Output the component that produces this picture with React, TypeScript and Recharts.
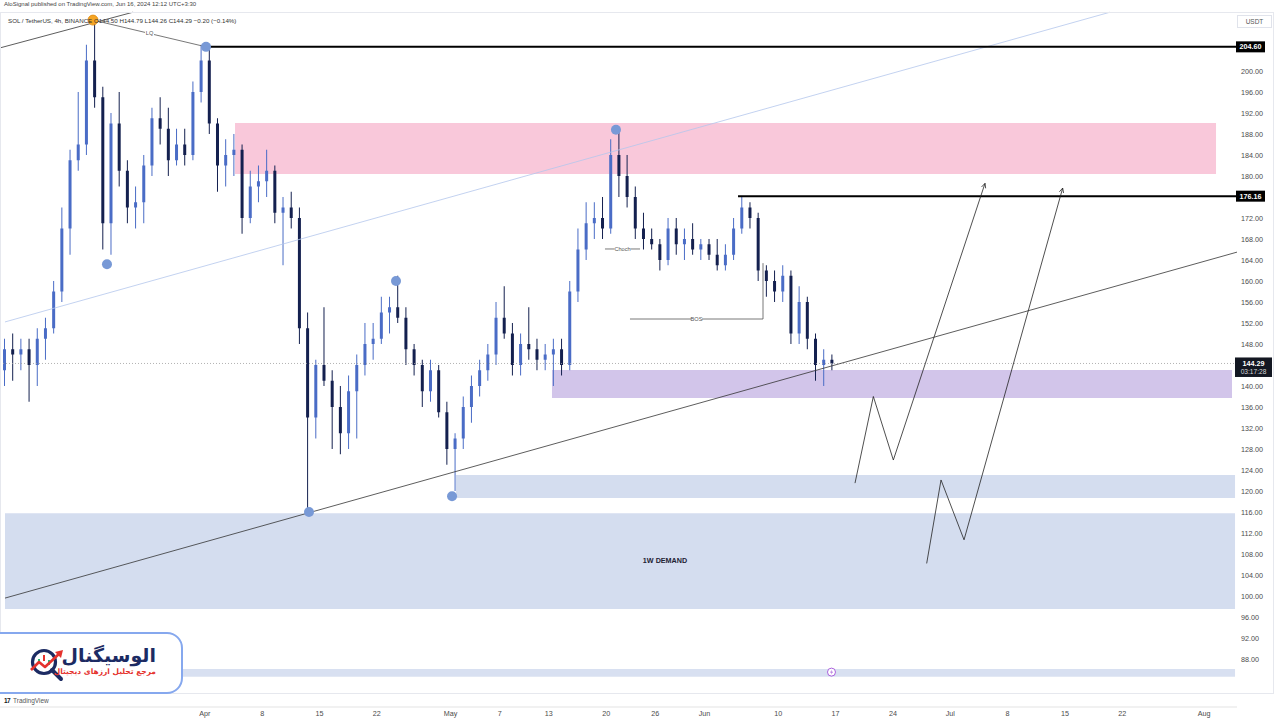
import React from 'react';
import { ComposedChart, Bar, XAxis, YAxis, ReferenceLine, ReferenceArea, ReferenceDot } from 'recharts';

// ---------- data ----------
// day offsets are relative to Apr 1 (day 0); first candle = Mar 7 (day -25)
const START_DAY = -25;
const END_DAY = 126;

// daily candles, Mar 7 -> Jun 16
const opens = [143,147,146,147,144,149,151,158,170,183,186,202,195,171,190,181,174,175,182,191,189,183,186,184,196,
  202,190,182,184,185,172,178,179,181,173,174,172,151,134,144,141,136,131,139,144,148,149,154,155,153,147,144,139,143,135,
  128,130,136,140,143,146,153,150,144,148,147,145,146,147,144,158,166,171,172,170,184,180,176,170,168,167,164,170,167,168,166,
  167,165,163,165,170,174,172,162,160,158,161,150,156,149,144,145];
const highs = [149,150,149,149,151,153,160,174,185,196,205,210,197,192,196,183,178,184,193,195,193,189,189,198,205,
  204,191,187,188,186,181,182,185,182,176,177,174,154,145,155,143,140,142,146,152,152,157,157,161,155,148,145,145,144,137,
  131,138,142,145,148,156,159,152,150,155,149,148,149,149,160,170,175,175,176,187,189,184,178,173,170,168,172,172,170,171,168,
  168,168,167,172,176.2,175,173,163,162,163,162,159,157,150,147,146];
const lows = [140,141,143,137,140,145,150,156,165,181,184,193,166,165,178,171,170,171,180,186,180,182,182,183,194,
  188,177,178,180,169,171,175,176,171,163,170,148,116,130,140,128,127,128,130,142,145,148,150,152,144,142,136,137,134,125,
  120,128,133,138,141,144,149,142,142,145,143,143,140,142,143,156,164,168,168,169,176,174,168,166,166,162,163,165,164,165,164,
  164,162,162,164,169,170,160,157,156,156,148,148,147,141,140,143];
const closes = [147,146,147,144,149,151,158,170,183,186,202,195,171,190,181,174,175,182,191,189,183,186,184,196,202,
  190,182,184,185,172,178,179,181,173,174,172,151,134,144,141,136,131,139,144,148,149,154,155,153,147,144,139,143,135,128,
  130,136,140,143,146,153,150,144,148,147,145,146,147,144,158,166,171,172,170,184,180,176,170,168,167,164,170,167,168,166,167,
  165,163,165,170,174,172,162,160,158,161,150,156,149,144,145,144.29];

const xTickDays = [0, 7, 14, 21, 30, 36, 42, 49, 55, 61, 70, 77, 84, 91, 98, 105, 112, 122];
const xTickLabels = ['Apr', '8', '15', '22', 'May', '7', '13', '20', '26', 'Jun', '10', '17', '24', 'Jul', '8', '15', '22', 'Aug'];
const yTicks = [88, 92, 96, 100, 104, 108, 112, 116, 120, 124, 128, 132, 136, 140, 148, 152, 156, 160, 164, 168, 172, 180, 184, 188, 192, 196, 200];
const yDomain = [84.571, 211.238];

// zones: [fromDay, toDay, top, bottom]
const supplyZone = [3.69, 123.44, 190.1, 180.38];
const purpleZone = [42.38, 125.39, 143.05, 137.71];
const demandSmall = [30.66, 125.76, 123.05, 118.67];
const demandWeekly = [-24.39, 125.76, 115.75, 97.52];
const bottomStrip = [-2.66, 125.76, 86.1, 84.6];

// drawn lines
const mainTrend = [{ d: -24.39, p: 99.6 }, { d: 126, p: 165.5 }];
const blueTrend = [{ d: -24.39, p: 152.2 }, { d: 110.5, p: 211.2 }];
const topLine = [{ d: -25, p: 204.4 }, { d: -8.76, p: 211.2 }];
const lqLine = [{ d: -13.65, p: 209.7 }, { d: 0.15, p: 204.6 }];
const levels = [{ p: 204.6, from: 0.15, label: '204.60' }, { p: 176.16, from: 65.09, label: '176.16' }];
const lastPrice = 144.29;
const chochLine = { p: 166.1, from: 48.85, to: 53.13 };
const bosLine = { p: 152.76, from: 51.9, to: 68.14, top: 163.4 };

const forecastA = [{ d: 79.37, p: 121.5 }, { d: 81.61, p: 138.0 }, { d: 84.05, p: 125.9 }, { d: 95.24, p: 178.6 }];
const forecastB = [{ d: 88.12, p: 106.2 }, { d: 89.87, p: 122.1 }, { d: 92.68, p: 110.7 }, { d: 104.72, p: 177.7 }];

const swingDots = [
  { d: -11.94, p: 163.2 }, { d: 0.15, p: 204.6 }, { d: 12.72, p: 116.0 },
  { d: 23.34, p: 160.0 }, { d: 30.18, p: 119.0 }, { d: 50.19, p: 188.8 },
];
const topDot = { d: -13.65, p: 209.7 };

// ---------- styles ----------
const FONT = '"Liberation Sans", Arial, sans-serif';
const UP = '#4a6cc6';
const DOWN = '#14204f';

const rows = Array.from({ length: END_DAY - START_DAY }, (_, i) => ({
  day: i,
  dn: START_DAY + i + 0.5,
  o: opens[i] ?? null,
  h: highs[i] ?? null,
  l: lows[i] ?? null,
  c: closes[i] ?? null,
}));

const Candle = (props: any) => {
  const { x, y, width, height, payload } = props;
  if (!payload || payload.h == null || !isFinite(y) || !isFinite(height)) return null;
  const { o, h, l, c } = payload;
  const ppu = height / (h - l);
  const yo = y + (h - o) * ppu;
  const yc = y + (h - c) * ppu;
  const col = c >= o ? UP : DOWN;
  const cx = x + width / 2;
  return (
    <g>
      <line x1={cx} x2={cx} y1={y} y2={y + height} stroke={col} strokeWidth={1} />
      <rect x={x} y={Math.min(yo, yc)} width={width} height={Math.max(1, Math.abs(yc - yo))} fill={col} />
    </g>
  );
};

const thinLine = (color: string, w = 0.8) => (p: any) => (
  <line x1={p.x1} y1={p.y1} x2={p.x2} y2={p.y2} stroke={color} strokeWidth={w} />
);

const arrowLine = (withArrow: boolean) => (p: any) => {
  const ang = Math.atan2(p.y2 - p.y1, p.x2 - p.x1);
  const L = 5;
  const a1 = ang + Math.PI - 0.45;
  const a2 = ang + Math.PI + 0.45;
  return (
    <g>
      <line x1={p.x1} y1={p.y1} x2={p.x2} y2={p.y2} stroke="#222" strokeWidth={0.8} />
      {withArrow && (
        <g>
          <line x1={p.x2} y1={p.y2} x2={p.x2 + L * Math.cos(a1)} y2={p.y2 + L * Math.sin(a1)} stroke="#222" strokeWidth={0.8} />
          <line x1={p.x2} y1={p.y2} x2={p.x2 + L * Math.cos(a2)} y2={p.y2 + L * Math.sin(a2)} stroke="#222" strokeWidth={0.8} />
        </g>
      )}
    </g>
  );
};

const levelShape = (label: string) => (p: any) => {
  const xr = Math.max(p.x1, p.x2);
  return (
    <g>
      <line x1={p.x1} y1={p.y1} x2={p.x2} y2={p.y2} stroke="#000" strokeWidth={2} />
      <rect x={xr - 1} y={p.y1 - 5.5} width={29} height={11} fill="#000" />
      <text x={xr + 13.5} y={p.y1 + 2.6} textAnchor="middle" fill="#fff" fontSize={7.2} fontWeight="bold" fontFamily={FONT}>{label}</text>
    </g>
  );
};

const lastPriceShape = (p: any) => {
  const xr = Math.max(p.x1, p.x2);
  return (
    <g>
      <line x1={p.x1} y1={p.y1} x2={p.x2} y2={p.y2} stroke="#a0a0a0" strokeWidth={0.8} strokeDasharray="1 2" />
      <rect x={xr - 2} y={p.y1 - 6} width={37} height={19.5} fill="#131722" />
      <text x={xr + 16.5} y={p.y1 + 2.3} textAnchor="middle" fill="#fff" fontSize={7.2} fontWeight="bold" fontFamily={FONT}>{lastPrice.toFixed(2)}</text>
      <text x={xr + 16.5} y={p.y1 + 10.5} textAnchor="middle" fill="#d8d8d8" fontSize={6.6} fontFamily={FONT}>03:17:28</text>
    </g>
  );
};

const labeledLine = (label: string, w: number) => (p: any) => {
  const mx = (p.x1 + p.x2) / 2;
  const my = (p.y1 + p.y2) / 2;
  return (
    <g>
      <line x1={p.x1} y1={p.y1} x2={p.x2} y2={p.y2} stroke="#555" strokeWidth={0.8} />
      <rect x={mx - w / 2} y={my - 3.5} width={w} height={7} fill="#fff" />
      <text x={mx} y={my + 2} textAnchor="middle" fontSize={5.6} fill="#555" fontFamily={FONT}>{label}</text>
    </g>
  );
};

const segs = (pts: { d: number; p: number }[]) =>
  pts.slice(1).map((pt, i) => [{ x: pts[i].d, y: pts[i].p }, { x: pt.d, y: pt.p }]);

export default function App() {
  return (
    <div style={{ position: 'absolute', left: 0, top: 0, width: 1280, height: 720, background: '#fff', fontFamily: FONT, overflow: 'hidden' }}>
      <ComposedChart width={1280} height={720} data={rows} margin={{ top: 12, right: 0, left: 0, bottom: 21 }}>
        <XAxis xAxisId="cat" dataKey="day" type="category" hide />
        <XAxis
          xAxisId="num"
          dataKey="dn"
          type="number"
          domain={[START_DAY, END_DAY]}
          allowDataOverflow
          ticks={xTickDays}
          interval={0}
          tickFormatter={(v: number) => xTickLabels[xTickDays.indexOf(v)] ?? ''}
          tickLine={false}
          tickSize={0}
          tickMargin={4}
          height={22}
          axisLine={{ stroke: '#e3e3e3' }}
          tick={{ fontSize: 7.2, fill: '#4b4b4b', fontFamily: FONT }}
        />
        <YAxis
          yAxisId="p"
          orientation="right"
          width={43}
          type="number"
          domain={yDomain}
          allowDataOverflow
          ticks={yTicks}
          interval={0}
          tickFormatter={(v: number) => v.toFixed(2)}
          tickLine={false}
          tickSize={0}
          tickMargin={4}
          axisLine={false}
          tick={{ fontSize: 7.2, fill: '#4b4b4b', fontFamily: FONT }}
        />

        {[supplyZone, purpleZone, demandSmall, demandWeekly, bottomStrip].map((z, i) => (
          <ReferenceArea
            key={'z' + i}
            xAxisId="num"
            yAxisId="p"
            x1={z[0]}
            x2={z[1]}
            y1={z[2]}
            y2={z[3]}
            ifOverflow="visible"
            fill={['#f9c8da', '#d2c5ea', '#d4ddef', '#d4ddef', '#d8e0f1'][i]}
            fillOpacity={1}
            stroke="none"
          />
        ))}

        <ReferenceLine xAxisId="num" yAxisId="p" segment={segs(blueTrend)[0]} ifOverflow="visible" shape={thinLine('#b4c6ec', 0.8)} />

        <Bar xAxisId="cat" yAxisId="p" dataKey={(r: any) => (r.h == null ? null : [r.l, r.h])} barSize={3} shape={<Candle />} isAnimationActive={false} />

        <ReferenceLine xAxisId="num" yAxisId="p" y={lastPrice} ifOverflow="visible" shape={lastPriceShape} />
        <ReferenceLine xAxisId="num" yAxisId="p" segment={segs(mainTrend)[0]} ifOverflow="visible" shape={thinLine('#333', 0.8)} />
        <ReferenceLine xAxisId="num" yAxisId="p" segment={segs(topLine)[0]} ifOverflow="visible" shape={thinLine('#333', 0.8)} />
        <ReferenceLine xAxisId="num" yAxisId="p" segment={segs(lqLine)[0]} ifOverflow="visible" shape={labeledLine('LQ', 9)} />

        {levels.map((lv) => (
          <ReferenceLine
            key={lv.label}
            xAxisId="num"
            yAxisId="p"
            segment={[{ x: lv.from, y: lv.p }, { x: END_DAY, y: lv.p }]}
            ifOverflow="visible"
            shape={levelShape(lv.label)}
          />
        ))}

        <ReferenceLine xAxisId="num" yAxisId="p" segment={[{ x: chochLine.from, y: chochLine.p }, { x: chochLine.to, y: chochLine.p }]} ifOverflow="visible" shape={labeledLine('Choch', 16)} />
        <ReferenceLine xAxisId="num" yAxisId="p" segment={[{ x: bosLine.from, y: bosLine.p }, { x: bosLine.to, y: bosLine.p }]} ifOverflow="visible" shape={labeledLine('BOS', 11)} />
        <ReferenceLine xAxisId="num" yAxisId="p" segment={[{ x: bosLine.to, y: bosLine.p }, { x: bosLine.to, y: bosLine.top }]} ifOverflow="visible" shape={thinLine('#555', 0.8)} />

        {[forecastA, forecastB].map((path, pi) =>
          segs(path).map((s, i, arr) => (
            <ReferenceLine
              key={'f' + pi + '-' + i}
              xAxisId="num"
              yAxisId="p"
              segment={s}
              ifOverflow="visible"
              shape={arrowLine(i === arr.length - 1)}
            />
          ))
        )}

        {swingDots.map((dt, i) => (
          <ReferenceDot key={'d' + i} xAxisId="num" yAxisId="p" x={dt.d} y={dt.p} r={5} fill="#7899d6" stroke="none" ifOverflow="visible" />
        ))}
        <ReferenceDot xAxisId="num" yAxisId="p" x={topDot.d} y={topDot.p} r={5} fill="#f5a524" stroke="#e08a10" strokeWidth={0.8} ifOverflow="visible" />

        <ReferenceDot
          xAxisId="num"
          yAxisId="p"
          x={56.18}
          y={106.67}
          r={1}
          ifOverflow="visible"
          shape={(p: any) => (
            <text x={p.cx} y={p.cy + 2.5} textAnchor="middle" fontSize={7.2} fontWeight="bold" fill="#1e2233" fontFamily={FONT}>1W DEMAND</text>
          )}
        />
        <ReferenceDot
          xAxisId="num"
          yAxisId="p"
          x={76.5}
          y={85.5}
          r={4}
          ifOverflow="visible"
          shape={(p: any) => (
            <g>
              <circle cx={p.cx} cy={p.cy} r={4} fill="#fff" stroke="#a04fd8" strokeWidth={0.9} />
              <path d={`M${p.cx + 0.6},${p.cy - 2.6} L${p.cx - 1.4},${p.cy + 0.3} L${p.cx + 0.3},${p.cy + 0.3} L${p.cx - 0.6},${p.cy + 2.6} L${p.cx + 1.5},${p.cy - 0.4} L${p.cx - 0.2},${p.cy - 0.4} Z`} fill="#a04fd8" />
            </g>
          )}
        />
      </ComposedChart>

      {/* frame */}
      <div style={{ position: 'absolute', left: 0, top: 12, width: 1274, height: 682, border: '1px solid #e6e8ee', boxSizing: 'border-box', pointerEvents: 'none' }} />

      {/* header texts */}
      <div style={{ position: 'absolute', left: 4, top: 1, fontSize: 6, color: '#444', whiteSpace: 'nowrap' }}>
        AloSignal published on TradingView.com, Jun 16, 2024 12:12 UTC+3:30
      </div>
      <div style={{ position: 'absolute', left: 8, top: 16.5, fontSize: 6.2, color: '#333', whiteSpace: 'nowrap' }}>
        SOL / TetherUS, 4h, BINANCE O144.50 H144.79 L144.26 C144.29 −0.20 (−0.14%)
      </div>

      {/* USDT label */}
      <div style={{ position: 'absolute', left: 1237, top: 15, width: 35, height: 13, border: '1px solid #e0e3eb', boxSizing: 'border-box', background: '#fff', fontSize: 6.5, color: '#555', textAlign: 'center', lineHeight: '11px' }}>
        USDT
      </div>

      {/* logo box */}
      <svg width={200} height={80} style={{ position: 'absolute', left: 0, top: 626 }}>
        <rect x={-14} y={7} width={196} height={60} rx={15} ry={15} fill="#fff" stroke="#86a8ee" strokeWidth={2} />
        <circle cx={44} cy={36} r={11.5} fill="#fff" stroke="#1c2b63" strokeWidth={3.2} />
        <line x1={52} y1={44} x2={61} y2={53} stroke="#1c2b63" strokeWidth={4} strokeLinecap="round" />
        <rect x={38} y={33} width={2} height={5} fill="#2bb673" />
        <rect x={43} y={29} width={2} height={6} fill="#e5322d" />
        <rect x={48} y={34} width={2} height={5} fill="#2bb673" />
        <polyline points="31,44 39,36 45,41 60,27" fill="none" stroke="#e5322d" strokeWidth={2.6} strokeLinejoin="round" />
        <polygon points="63,24 55,26 61,32" fill="#e5322d" />
      </svg>
      <div dir="rtl" style={{ position: 'absolute', left: 66, top: 643, width: 90, textAlign: 'center', fontFamily: '"DejaVu Sans", sans-serif', fontWeight: 'bold', fontSize: 19, color: '#1c2b63', whiteSpace: 'nowrap', lineHeight: '24px' }}>
        الوسیگنال
      </div>
      <div dir="rtl" style={{ position: 'absolute', left: 64, top: 667, width: 92, textAlign: 'center', fontFamily: '"DejaVu Sans", sans-serif', fontWeight: 'bold', fontSize: 7.5, color: '#e5322d', whiteSpace: 'nowrap', lineHeight: '10px' }}>
        مرجع تحلیل ارزهای دیجیتال
      </div>

      {/* footer */}
      <div style={{ position: 'absolute', left: 4, top: 697, fontSize: 6.5, color: '#555', whiteSpace: 'nowrap' }}>
        <span style={{ fontWeight: 'bold', color: '#131722', letterSpacing: -0.6, marginRight: 3 }}>17</span>TradingView
      </div>
    </div>
  );
}
